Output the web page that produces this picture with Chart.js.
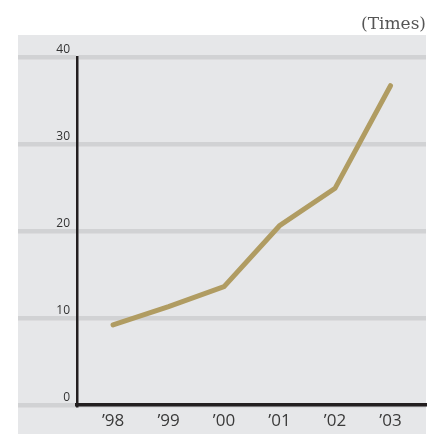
<!DOCTYPE html>
<html>
<head>
<meta charset="utf-8">
<script src="https://cdn.jsdelivr.net/npm/chart.js@4.4.1/dist/chart.umd.min.js"></script>
<style>
  html, body { margin: 0; padding: 0; background: #ffffff; }
  #wrap { width: 438px; height: 434px; }
</style>
</head>
<body>
<div id="wrap"><canvas id="grafico" width="438" height="434"></canvas></div>
<script>
// Datos
const years = ['\u201998', '\u201999', '\u201900', '\u201901', '\u201902', '\u201903'];
const times = [9.2, 11.3, 13.6, 20.6, 24.9, 36.7];
const yTicks = [0, 10, 20, 30, 40];

// fondo gris del panel
const panelBg = {
    id: 'panelBg',
    beforeDraw(chart) {
        const ctx = chart.ctx;
        ctx.save();
        ctx.fillStyle = '#e6e7e9';
        ctx.fillRect(18, 35, 408, 399);
        ctx.restore();
    }
};

const ctx = document.getElementById('grafico').getContext('2d');
const chart = new Chart(ctx, {
    type: 'line',
    data: {
        datasets: [{
            label: 'Times',
            data: times.map((v, i) => ({ x: i, y: v })),
            borderColor: '#b09c62',
            borderWidth: 5,
            borderCapStyle: 'round',
            borderJoinStyle: 'miter',
            pointRadius: 0,
            tension: 0
        }]
    },
    options: {
        responsive: false,
        animation: false,
        layout: { padding: { left: 0, right: 12, top: 0, bottom: 0 } },
        plugins: {
            legend: { display: false },
            tooltip: { enabled: false },
            title: {
                display: true,
                text: '(Times)',
                align: 'end',
                color: '#555555',
                font: { family: 'DejaVu Serif', size: 17, weight: 'normal', lineHeight: 1.2 },
                padding: { top: 14, bottom: 22.6 }
            }
        },
        scales: {
            x: {
                type: 'linear',
                min: -0.65,
                max: 5.64,
                afterBuildTicks: (scale) => {
                    scale.ticks = years.map((y, i) => ({ value: i }));
                },
                afterFit: (scale) => { scale.height = 29; },
                grid: { display: false, drawTicks: false },
                border: { display: true, color: '#231f20', width: 3.5 },
                ticks: {
                    callback: (v) => years[v],
                    color: '#3a3a3a',
                    font: { family: 'Open Sans', size: 17 },
                    padding: 6,
                    maxRotation: 0
                }
            },
            y: {
                min: 0,
                max: 40,
                afterBuildTicks: (scale) => {
                    scale.ticks = yTicks.map(v => ({ value: v }));
                },
                afterFit: (scale) => { scale.width = 77; },
                grid: {
                    color: '#d1d2d4',
                    lineWidth: 4.5,
                    drawTicks: true,
                    tickLength: 59
                },
                border: { display: true, color: '#231f20', width: 2.5 },
                ticks: {
                    color: '#333333',
                    font: { family: 'Open Sans', size: 12 },
                    padding: -52,
                    labelOffset: -7
                }
            }
        }
    },
    plugins: [panelBg]
});
</script>
</body>
</html>
